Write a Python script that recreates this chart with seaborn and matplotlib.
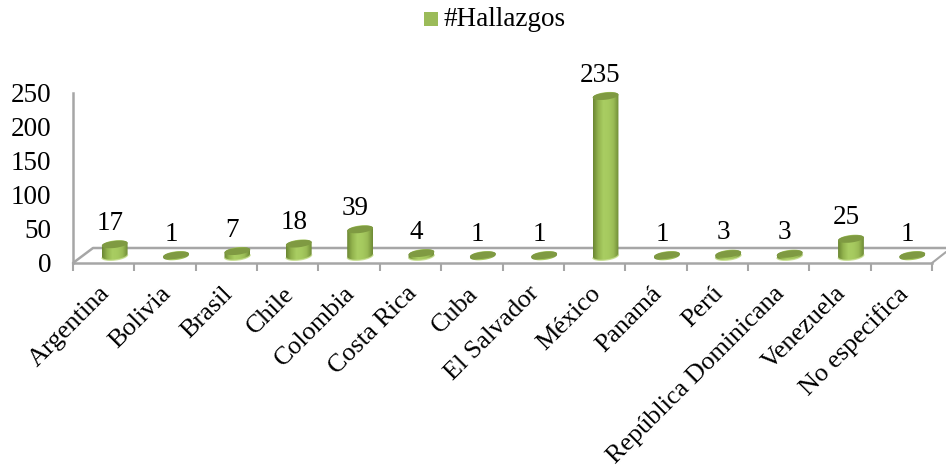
import numpy as np
import pandas as pd
import matplotlib
matplotlib.use("Agg")
import matplotlib.pyplot as plt
from matplotlib.colors import LinearSegmentedColormap
from matplotlib.patches import Ellipse, Polygon, Rectangle
from matplotlib.transforms import IdentityTransform
import seaborn as sns

countries = ["Argentina", "Bolivia", "Brasil", "Chile", "Colombia", "Costa Rica", "Cuba",
             "El Salvador", "México", "Panamá", "Perú", "República Dominicana",
             "Venezuela", "No especifica"]
hallazgos = [17, 1, 7, 18, 39, 4, 1, 1, 235, 1, 3, 3, 25, 1]
y_ticks = [0, 50, 100, 150, 200, 250]
series_name = "#Hallazgos"

W, H = 946, 472
GRAY = "#a6a6a6"
GREEN = "#9bbb59"
CAP = "#7f9a42"
FONT = 19.5

sns.set_theme(style="ticks")
plt.rcParams["font.family"] = ["Liberation Serif", "DejaVu Serif"]

df = pd.DataFrame({"pais": countries, "hallazgos": hallazgos})
shade = LinearSegmentedColormap.from_list(
    "cyl", ["#6b8733", "#93b44e", "#a9cd62", "#a6ca5f", "#9abb55", "#6f8b36"])

fig = plt.figure(figsize=(W / 100, H / 100), dpi=100)


def px_axes(left, right, bottom, top):
    return fig.add_axes([left / W, 1 - bottom / H, (right - left) / W, (bottom - top) / H])


# main axes: walls, ticks, labels
ax = px_axes(73, 932, 263, 93)
ax.set_xlim(-0.5, len(countries) - 0.5)
ax.set_ylim(0, 250)
ax.patch.set_alpha(0)

# bars sit 11 px in and 7 px up on the floor
ax_b = px_axes(84, 943, 256, 86)
sns.barplot(data=df, x="pais", y="hallazgos", color=GREEN, saturation=1, width=25 / 61.36,
            ax=ax_b, legend=False)
ax_b.axis("off")

for s in ["top", "right"]:
    ax.spines[s].set_visible(False)
for s in ["left", "bottom"]:
    ax.spines[s].set_color(GRAY)
    ax.spines[s].set_linewidth(1.8)

ax.set_xticks(np.arange(len(countries) + 1) - 0.5)
ax.set_xticklabels([])
# labels sit a little left of the slot centre
ax.set_xticks(np.arange(len(countries)) - 5 / 61.36, labels=countries, minor=True)
ax.tick_params(axis="x", which="major", length=5.5, width=1.5, color=GRAY)
ax.tick_params(axis="x", which="minor", length=0, pad=14, labelsize=18.8, labelcolor="black")
for lab in ax.get_xticklabels(minor=True):
    lab.set_rotation(45)
    lab.set_ha("right")
    lab.set_va("top")
    lab.set_rotation_mode("anchor")
ax.set_yticks(y_ticks)
ax.tick_params(axis="y", length=0, pad=15.5, labelsize=FONT, labelcolor="black")
ax.set_xlabel("")
ax.set_ylabel("")

# floor of the 3d box
back = 15 / 0.68
ax.plot([-0.5, -0.5 + 20 / 61.36, 13.5 + 14 / 61.36], [0, back, back], color=GRAY, lw=1.8,
        clip_on=False, zorder=1)
ax.plot([13.5, 13.5 + 14 / 61.36], [0, 11 / 0.68], color=GRAY, lw=1.5, clip_on=False, zorder=1)


def ell_pts(cx, cy, w, h, ang, t):
    x = w / 2 * np.cos(t)
    y = h / 2 * np.sin(t)
    return np.c_[cx + x * np.cos(ang) - y * np.sin(ang), cy + x * np.sin(ang) + y * np.cos(ang)]


gradient = np.linspace(0, 1, 64).reshape(1, -1)
tilt = np.deg2rad(7)
ax_b.set_xlim(-0.5, len(countries) - 0.5)
ax_b.set_ylim(0, 250)
fig.canvas.draw()
ident = IdentityTransform()
for bar, val in zip(list(ax_b.patches), hallazgos):
    xc = bar.get_x() + bar.get_width() / 2
    x0, y0 = ax_b.transData.transform((xc, 0))
    x1, y1 = ax_b.transData.transform((xc, val))
    w = bar.get_window_extent().width + 1
    bar.set_visible(False)

    lower = ell_pts(x0, y0, w, 8, tilt, np.linspace(np.pi, 2 * np.pi, 30))
    upper = ell_pts(x1, y1, w, 8, tilt, np.linspace(0, np.pi, 30))
    body = Polygon(np.vstack([lower, upper]), closed=True, transform=ident, fc="none", ec="none")
    ax_b.add_artist(body)
    body.set_clip_on(False)
    box = ax_b.transData.inverted().transform([(x0 - w / 2, y0 - 8), (x0 + w / 2, y1 + 8)])
    im = ax_b.imshow(gradient, cmap=shade, aspect="auto", zorder=3,
                     extent=[box[0, 0], box[1, 0], box[0, 1], box[1, 1]])
    im.set_clip_box(fig.bbox)
    im.set_clip_path(body)
    # light rim along the base, lower half only
    if val > 2:
        rim = Polygon(lower, closed=False, transform=ident, fc="none", ec="#c3dd8a",
                      lw=1.0, alpha=0.8, zorder=4)
        ax_b.add_artist(rim)
        rim.set_clip_on(False)
    cap = Ellipse((x1, y1), w, 7, angle=7, transform=ident, fc=CAP, ec="none", zorder=5)
    ax_b.add_artist(cap)
    cap.set_clip_on(False)
    ax_b.annotate(str(val), (xc, val), xytext=(-5 * 0.72, 21 * 0.72), textcoords="offset points",
                  ha="center", va="center", fontsize=FONT, color="black", annotation_clip=False)

ax_b.set_xlim(-0.5, len(countries) - 0.5)
ax_b.set_ylim(0, 250)

# legend at top, drawn by hand to sit like the original
fig.add_artist(Rectangle((424 / W, 1 - 26 / H), 14 / W, 14 / H, transform=fig.transFigure,
                         fc=GREEN, ec="none"))
fig.text(443 / W, 1 - 20 / H, series_name, ha="left", va="center", fontsize=FONT, color="black")

fig.savefig("out.png", dpi=100)
plt.close(fig)
